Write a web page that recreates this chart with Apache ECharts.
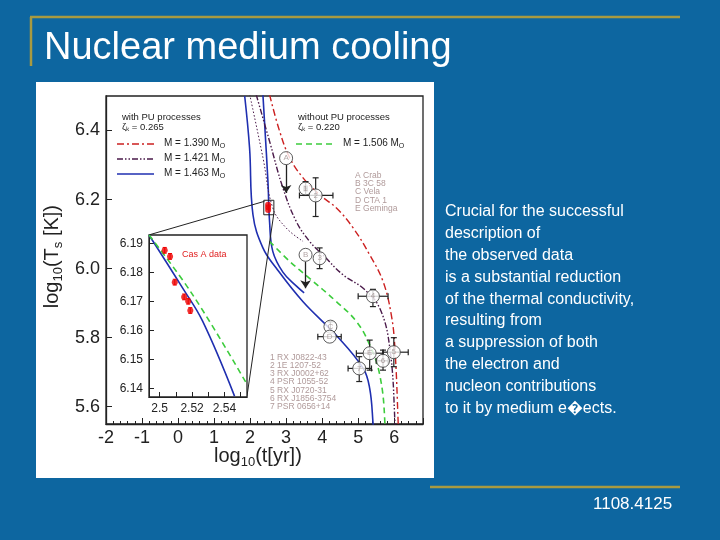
<!DOCTYPE html><html><head><meta charset="utf-8">
<script src="https://cdn.jsdelivr.net/npm/echarts@6/dist/echarts.min.js"></script>
<style>html,body{margin:0;padding:0;background:#0d66a0}#c{width:720px;height:540px}</style></head><body><div id="c"></div>
<script>
const xTicks=[-2,-1,0,1,2,3,4,5,6];
const yTicks=[5.6,5.8,6.0,6.2,6.4];
const blue1=[[1.85,6.5],[1.985,6.35],[2.08,6.156],[2.356,6.06],[2.73,6.001],[3.47,5.904],[4.39,5.807],[5.14,5.711],[5.32,5.653],[5.41,5.556],[5.43,5.5]];
const blue2=[[2.356,6.504],[2.495,6.253],[2.54,6.137],[2.63,6.05],[2.91,5.99],[3.28,5.95],[3.5,5.93]];
const green=[[2.54,6.079],[3.1,6.021],[3.65,5.972],[4.39,5.905],[4.95,5.847],[5.32,5.779],[5.6,5.692],[5.74,5.556],[5.75,5.5]];
const red=[[2.54,6.504],[2.82,6.398],[3.1,6.321],[3.47,6.263],[3.93,6.214],[4.39,6.176],[4.86,6.118],[5.32,6.04],[5.69,5.963],[5.92,5.866],[6.02,5.769],[6.11,5.556],[6.12,5.5]];
const purple=[[2.17,6.504],[2.54,6.369],[2.91,6.234],[3.28,6.137],[3.65,6.079],[4.02,6.04],[4.58,5.982],[5.14,5.943],[5.6,5.885],[5.88,5.769],[6.02,5.556],[6.03,5.5]];
const purple2=[[1.99,6.504],[2.36,6.32],[2.63,6.176],[3.0,6.118],[3.47,6.079]];
// [x,y,xlo,xhi,ylo,yhi,label]
const stars=[[3.0,6.32,3.0,3.0,6.32,6.32,'A'],[3.54,6.232,3.5,3.58,6.212,6.252,'1'],[3.82,6.212,3.37,4.30,6.151,6.263,'2'],[3.54,6.04,3.54,3.54,6.04,6.04,'B'],[3.93,6.03,3.93,3.93,6.0,6.06,'3'],[5.41,5.92,5.0,5.83,5.89,5.94,'4'],[4.23,5.832,4.23,4.23,5.818,5.846,'C'],[4.21,5.803,3.88,4.53,5.803,5.803,'D'],[5.32,5.755,4.95,5.69,5.706,5.793,'E'],[5.69,5.733,5.5,5.83,5.706,5.764,'6'],[5.99,5.758,5.69,6.39,5.716,5.8,'5'],[5.03,5.711,4.72,5.37,5.673,5.745,'7']];
const arrows=[[[3.0,6.3],[3.0,6.219]],[[3.54,6.02],[3.54,5.943]]];
const casA=[[2.5031,6.1877],[2.5064,6.1856],[2.5093,6.1767],[2.5151,6.1716],[2.5176,6.1701],[2.5189,6.1669]];
const casAmain=[[2.5,6.185],[2.5,6.178],[2.5,6.17]];
const insetBlue=[[2.4934,6.193],[2.5141,6.1747],[2.5265,6.1632],[2.5462,6.1373]];
const insetGreen=[[2.4934,6.193],[2.5203,6.1724],[2.5539,6.1414]];
const insetXTicks=['2.5','2.52','2.54'];
const insetYTicks=['6.19','6.18','6.17','6.16','6.15','6.14'];
const zoomLines=[[[2.4,6.195],[-0.795,6.098]],[[2.66,6.16],[1.911,5.629]]];

const ch=echarts.init(document.getElementById('c'));
const F='Liberation Sans, Arial, sans-serif';
function ebars(data){return {type:'custom',xAxisIndex:0,yAxisIndex:0,z:3,data:data,renderItem:(p,api)=>{
 const x=api.value(0),y=api.value(1),xl=api.value(2),xh=api.value(3),yl=api.value(4),yh=api.value(5);
 const a=api.coord([xl,y]),b=api.coord([xh,y]),c=api.coord([x,yl]),d=api.coord([x,yh]);
 const s={stroke:'#222',lineWidth:1.2};const ch=[];
 if(xh>xl){ch.push({type:'line',shape:{x1:a[0],y1:a[1],x2:b[0],y2:b[1]},style:s},{type:'line',shape:{x1:a[0],y1:a[1]-3,x2:a[0],y2:a[1]+3},style:s},{type:'line',shape:{x1:b[0],y1:b[1]-3,x2:b[0],y2:b[1]+3},style:s});}
 if(yh>yl){ch.push({type:'line',shape:{x1:c[0],y1:c[1],x2:d[0],y2:d[1]},style:s},{type:'line',shape:{x1:c[0]-3,y1:c[1],x2:c[0]+3,y2:c[1]},style:s},{type:'line',shape:{x1:d[0]-3,y1:d[1],x2:d[0]+3,y2:d[1]},style:s});}
 return {type:'group',children:ch};}};}
function insetBars(data){return {type:'custom',xAxisIndex:1,yAxisIndex:1,z:7,data:data,renderItem:(p,api)=>{
 const x=api.value(0),y=api.value(1);const c=api.coord([x,y-0.001]),d=api.coord([x,y+0.001]);
 const s={stroke:'#e00',lineWidth:1};
 return {type:'group',children:[{type:'line',shape:{x1:c[0],y1:c[1],x2:d[0],y2:d[1]},style:s},{type:'line',shape:{x1:c[0]-2,y1:c[1],x2:c[0]+2,y2:c[1]},style:s},{type:'line',shape:{x1:d[0]-2,y1:d[1],x2:d[0]+2,y2:d[1]},style:s}]};}};}
const ax={axisLine:{onZero:false,lineStyle:{color:'#222',width:1.3}},axisTick:{inside:true,length:6,lineStyle:{color:'#222'}},minorTick:{show:true,splitNumber:5,length:3,lineStyle:{color:'#222'}},splitLine:{show:false}};
const L=(d,c,w,t,xi,z)=>({type:'line',data:d,xAxisIndex:xi||0,yAxisIndex:xi||0,symbol:'none',smooth:0.4,lineStyle:{color:c,width:w,type:t},z:z||2});
const txt=(x,y,t,o)=>Object.assign({type:'text',left:x,top:y,style:Object.assign({text:t,fill:'#222',font:'11px '+F},o||{})});
const rs={a:{fontSize:20,fontFamily:F,fill:'#222'},s:{fontSize:13,fontFamily:F,fill:'#222',padding:[12,0,0,0]}};
ch.setOption({backgroundColor:'#0d66a0',animation:false,
grid:[{left:106,top:96,width:317,height:328,show:true,borderColor:'#222',borderWidth:1.3,backgroundColor:'transparent'},
{left:149,top:235,width:98,height:162,show:true,borderColor:'#222',borderWidth:1.3,backgroundColor:'#fff',z:4}],
xAxis:[Object.assign({type:'value',gridIndex:0,min:-2,max:6.8,interval:1,axisLabel:{color:'#222',fontSize:18,fontFamily:F,margin:5,customValues:xTicks,formatter:v=>xTicks.includes(v)?String(v):''}},ax),
Object.assign({type:'value',gridIndex:1,min:2.4934,max:2.5539,axisTick:{inside:true,length:5,customValues:[2.5,2.51,2.52,2.53,2.54,2.55]},minorTick:{show:false},axisLabel:{color:'#222',fontSize:12,fontFamily:F,margin:6,customValues:[2.5,2.52,2.54],formatter:v=>insetXTicks.find(s=>Math.abs(+s-v)<1e-6)||''}},{axisLine:{onZero:false,lineStyle:{color:'#222'}},splitLine:{show:false},z:5})],
yAxis:[Object.assign({type:'value',gridIndex:0,min:5.55,max:6.5,axisLabel:{color:'#222',fontSize:18,fontFamily:F,margin:6,customValues:yTicks,formatter:v=>v.toFixed(1)}},ax,{axisTick:{inside:true,length:6,customValues:yTicks,lineStyle:{color:'#222'}},minorTick:{show:false}}),
Object.assign({type:'value',gridIndex:1,min:6.137,max:6.193,axisTick:{inside:true,length:5,customValues:[6.14,6.15,6.16,6.17,6.18,6.19]},axisLabel:{color:'#222',fontSize:12,fontFamily:F,margin:6,customValues:[6.14,6.15,6.16,6.17,6.18,6.19],formatter:v=>v.toFixed(2)}},{axisLine:{onZero:false,lineStyle:{color:'#222'}},splitLine:{show:false},z:5})],
series:[
L(blue1,'#1f2fb0',1.6,'solid'),L(blue2,'#1f2fb0',1.6,'solid'),
L(green,'#3ccc3c',1.6,[6,4]),L(red,'#cc2020',1.4,[7,3,2,3]),
L(purple,'#4a1a4a',1.4,[6,2,1.5,2,1.5,2]),L(purple2,'#4a1a4a',1,[1.5,2]),
{type:'lines',coordinateSystem:'cartesian2d',xAxisIndex:0,yAxisIndex:0,data:zoomLines.map(c=>({coords:c})),lineStyle:{color:'#222',width:1,opacity:1},z:3},
{type:'lines',coordinateSystem:'cartesian2d',xAxisIndex:0,yAxisIndex:0,data:arrows.map(c=>({coords:c})),symbol:['none','arrow'],symbolSize:8,lineStyle:{color:'#222',width:1.3,opacity:1},z:3},
{type:'scatter',xAxisIndex:0,yAxisIndex:0,data:casAmain,symbolSize:6,itemStyle:{color:'#e00'},z:3},
{type:'custom',xAxisIndex:0,yAxisIndex:0,data:[[2.38,6.198,2.66,6.156]],z:4,renderItem:(p,api)=>{const a=api.coord([api.value(0),api.value(1)]),b=api.coord([api.value(2),api.value(3)]);return {type:'rect',shape:{x:a[0],y:a[1],width:b[0]-a[0],height:b[1]-a[1]},style:{fill:'none',stroke:'#222',lineWidth:1}};}},
ebars(stars),
{type:'scatter',xAxisIndex:0,yAxisIndex:0,data:stars.map(s=>[s[0],s[1],s[6]]),symbolSize:13,z:4,itemStyle:{color:'#fff',borderColor:'#333',borderWidth:1},label:{show:true,position:'inside',formatter:p=>p.value[2],color:'#a09090',fontSize:8,fontFamily:F}},
L(insetBlue,'#1f2fb0',1.6,'solid',1,6),L(insetGreen,'#3ccc3c',1.6,[6,4],1,6),
insetBars(casA),
{type:'scatter',xAxisIndex:1,yAxisIndex:1,data:casA,symbolSize:6,itemStyle:{color:'#e00'},z:8}
],
graphic:[
{type:'rect',shape:{x:36,y:82,width:398,height:396},style:{fill:'#fff'},z:-10,silent:true},
{type:'line',shape:{x1:30,y1:17,x2:680,y2:17},style:{stroke:'#a89a40',lineWidth:2.5}},
{type:'line',shape:{x1:31,y1:17,x2:31,y2:66},style:{stroke:'#a89a40',lineWidth:2.5}},
{type:'line',shape:{x1:430,y1:487,x2:680,y2:487},style:{stroke:'#a89a40',lineWidth:2.5}},
txt(44,30,'Nuclear medium cooling',{fill:'#fff',font:'38px '+F}),
txt(445,201,'Crucial for the successful\ndescription of\nthe observed data\nis a substantial reduction\nof the thermal conductivity,\nresulting from\na suppression of both\nthe electron and\nnucleon contributions\nto it by medium e\ufffdects.',{fill:'#fff',font:'16px '+F,lineHeight:21.8}),
txt(593,496,'1108.4125',{fill:'#fff',font:'17px '+F}),
{type:'text',left:42,top:205,rotation:Math.PI/2,style:{text:'{a|log}{s|10}{a|(T}{s|s}{a| [K])}',rich:rs}},
{type:'text',left:214,top:446,style:{text:'{a|log}{s|10}{a|(t[yr])}',rich:rs}},
txt(122,112,'with PU processes\n\u03b6\u2096 = 0.265',{font:'9.5px '+F,lineHeight:10}),
txt(298,112,'without PU processes\n\u03b6\u2096 = 0.220',{font:'9.5px '+F,lineHeight:10}),
{type:'line',shape:{x1:117,y1:144,x2:154,y2:144},style:{stroke:'#cc2020',lineWidth:1.4,lineDash:[7,3,2,3]}},
{type:'line',shape:{x1:117,y1:159,x2:154,y2:159},style:{stroke:'#4a1a4a',lineWidth:1.4,lineDash:[6,2,1.5,2,1.5,2]}},
{type:'line',shape:{x1:117,y1:174,x2:154,y2:174},style:{stroke:'#1f2fb0',lineWidth:1.6}},
{type:'line',shape:{x1:296,y1:144,x2:334,y2:144},style:{stroke:'#3ccc3c',lineWidth:1.6,lineDash:[6,4]}},
{type:'text',left:164,top:138,style:{text:'M = 1.390 M{s|O}',font:'10px '+F,fill:'#222',rich:{s:{fontSize:7,padding:[6,0,0,0]}}}},
{type:'text',left:164,top:153,style:{text:'M = 1.421 M{s|O}',font:'10px '+F,fill:'#222',rich:{s:{fontSize:7,padding:[6,0,0,0]}}}},
{type:'text',left:164,top:168,style:{text:'M = 1.463 M{s|O}',font:'10px '+F,fill:'#222',rich:{s:{fontSize:7,padding:[6,0,0,0]}}}},
{type:'text',left:343,top:138,style:{text:'M = 1.506 M{s|O}',font:'10px '+F,fill:'#222',rich:{s:{fontSize:7,padding:[6,0,0,0]}}}},
txt(355,171,'A Crab\nB 3C 58\nC Vela\nD CTA 1\nE Geminga',{fill:'#b09a9a',font:'8.5px '+F,lineHeight:8.3}),
txt(270,353,'1 RX J0822-43\n2 1E 1207-52\n3 RX J0002+62\n4 PSR 1055-52\n5 RX J0720-31\n6 RX J1856-3754\n7 PSR 0656+14',{fill:'#b09a9a',font:'8.5px '+F,lineHeight:8.2}),
{type:'text',left:182,top:250,z:20,style:{text:'Cas A data',fill:'#e02020',font:'9px '+F}}
]});
</script></body></html>
